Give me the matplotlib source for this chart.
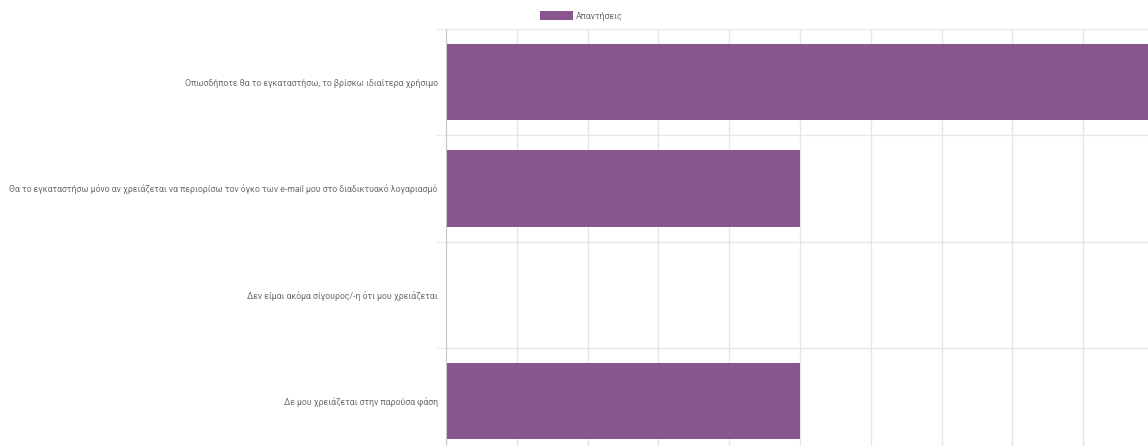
import numpy as np
import matplotlib.pyplot as plt

# Δεδομένα
categories = [
    'Οπωσδήποτε θα το εγκαταστήσω, το βρίσκω ιδιαίτερα χρήσιμο',
    'Θα το εγκαταστήσω μόνο αν χρειάζεται να περιορίσω τον όγκο των e-mail μου στο διαδικτυακό λογαριασμό',
    'Δεν είμαι ακόμα σίγουρος/-η ότι μου χρειάζεται',
    'Δε μου χρειάζεται στην παρούσα φάση',
]
values = [2, 1, 0, 1]
series_name = 'Απαντήσεις'

bar_color = '#88558f'
grid_color = '#e6e6e6'
text_color = '#6e6e6e'

plt.rcParams['font.family'] = ['Roboto', 'DejaVu Sans']

W, H = 1148, 446
fig = plt.figure(figsize=(W / 100, H / 100), dpi=100)
# περιοχή γραφήματος σε pixel: x 446..1148, y 29..454 (κόβεται στο κάτω μέρος)
ax = fig.add_axes([446 / W, (H - 454) / H, (W - 446) / W, (454 - 29) / H])

y = np.arange(len(categories))
ax.barh(y, values, height=0.72, color=bar_color, label=series_name, zorder=2)

ax.set_ylim(len(categories) - 0.5, -0.5)
ax.set_xlim(0, (W - 446) / 70.8 * 0.2)

ax.set_xticks(np.arange(0, 2.0, 0.2))
ax.set_xticklabels([])
ax.tick_params(axis='x', length=0)
ax.set_yticks(y)
ax.set_yticklabels(categories, fontsize=6.3, color=text_color)
ax.tick_params(axis='y', length=0, pad=6)
ax.set_yticks(np.arange(-0.5, len(categories), 1), minor=True)
ax.tick_params(axis='y', which='minor', length=7, color=grid_color)

ax.grid(axis='x', color=grid_color, linewidth=1, zorder=0)
ax.grid(axis='y', which='minor', color=grid_color, linewidth=1, zorder=0)
ax.set_axisbelow(True)

for s in ['top', 'right', 'bottom']:
    ax.spines[s].set_visible(False)
ax.spines['left'].set_color('#c8c8c8')

fig.legend(loc='center', bbox_to_anchor=(581 / W, 1 - 16 / H), frameon=False,
           fontsize=6.3, labelcolor=text_color, handlelength=3.8, handleheight=1.1,
           handletextpad=0.3)

fig.savefig('out.png', dpi=100)
